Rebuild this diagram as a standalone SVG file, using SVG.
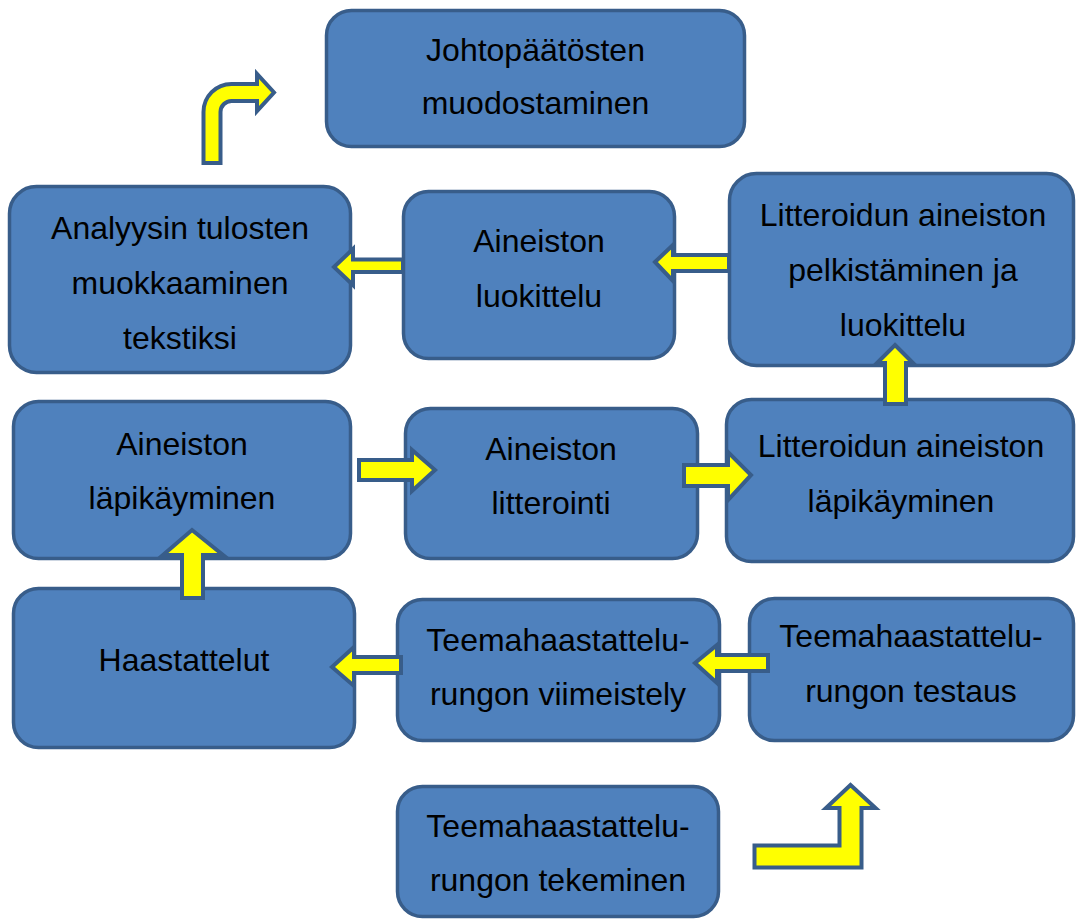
<svg xmlns="http://www.w3.org/2000/svg" width="1076" height="919" viewBox="0 0 1076 919">
<style>
.box{fill:#4F81BD;stroke:#385D8A;stroke-width:3.5}
.t{font-family:"Liberation Sans",Arial,sans-serif;font-size:32px;fill:#000;text-anchor:middle}
.arr{fill:#FFFF00;stroke:#385D8A;stroke-width:4;stroke-linejoin:miter}
</style>
<rect width="1076" height="919" fill="#fff"/>
<g id="n1"><rect class="box" x="326.5" y="10.5" width="418" height="136" rx="25"/><text class="t" x="535.5" y="61">Johtopäätösten</text><text class="t" x="535.5" y="114">muodostaminen</text></g>
<g id="n2"><rect class="box" x="9.5" y="186.5" width="341" height="186" rx="27"/><text class="t" x="180" y="239">Analyysin tulosten</text><text class="t" x="180" y="294">muokkaaminen</text><text class="t" x="180" y="349">tekstiksi</text></g>
<g id="n3"><rect class="box" x="403.5" y="191.5" width="271" height="167" rx="25"/><text class="t" x="539" y="252">Aineiston</text><text class="t" x="539" y="307">luokittelu</text></g>
<g id="n4"><rect class="box" x="729.5" y="173.5" width="344" height="192" rx="27"/><text class="t" x="903" y="226">Litteroidun aineiston</text><text class="t" x="903" y="281">pelkistäminen ja</text><text class="t" x="903" y="336">luokittelu</text></g>
<g id="n5"><rect class="box" x="13.5" y="401.5" width="337" height="157" rx="25"/><text class="t" x="182" y="455">Aineiston</text><text class="t" x="182" y="509">läpikäyminen</text></g>
<g id="n6"><rect class="box" x="405.5" y="408.5" width="292" height="150" rx="25"/><text class="t" x="551" y="460">Aineiston</text><text class="t" x="551" y="514">litterointi</text></g>
<g id="n7"><rect class="box" x="726.5" y="399.5" width="347" height="162" rx="25"/><text class="t" x="901" y="457">Litteroidun aineiston</text><text class="t" x="901" y="512">läpikäyminen</text></g>
<g id="n8"><rect class="box" x="13.5" y="588.5" width="341" height="159" rx="25"/><text class="t" x="184" y="671">Haastattelut</text></g>
<g id="n9"><rect class="box" x="397.5" y="599.5" width="322" height="141" rx="25"/><text class="t" x="558" y="651">Teemahaastattelu-</text><text class="t" x="558" y="705">rungon viimeistely</text></g>
<g id="n10"><rect class="box" x="749.5" y="598.5" width="324" height="142" rx="25"/><text class="t" x="911" y="647">Teemahaastattelu-</text><text class="t" x="911" y="702">rungon testaus</text></g>
<g id="n11"><rect class="box" x="397.5" y="786.5" width="321" height="130" rx="25"/><text class="t" x="558" y="837">Teemahaastattelu-</text><text class="t" x="558" y="891">rungon tekeminen</text></g>
<g id="connectors">
<path class="arr" d="M203.5 163 L203.5 112 A28 28 0 0 1 231.5 84 L257 84 L257 74 L274 92.5 L257 111 L257 101 L231.5 101 A11 11 0 0 0 220.5 112 L220.5 163 Z"/>
<polygon class="arr" points="754.5,845.5 839.5,845.5 839.5,808 826,808 850.5,785 875.5,808 861.5,808 861.5,867.5 754.5,867.5"/>
<polygon class="arr" points="334,267 353,249 353,259.5 403,259.5 403,272 353,272 353,285"/>
<polygon class="arr" points="655,262 673,245 673,255 729,255 729,271 673,271 673,281"/>
<polygon class="arr" points="359,460 412,460 412,450 435,470 412,491 412,480 359,480"/>
<polygon class="arr" points="684,465 728,465 728,452 751,475 728,500 728,486 684,486"/>
<polygon class="arr" points="895,345 913,363 906,363 906,404 885,404 885,363 877,363"/>
<polygon class="arr" points="192,530 223,555 203,555 203,598 182,598 182,555 163,555"/>
<polygon class="arr" points="332,667 354,647 354,657 401,657 401,673 354,673 354,686"/>
<polygon class="arr" points="695,663 717,645 717,655 768,655 768,671 717,671 717,683"/>
</g>
</svg>
